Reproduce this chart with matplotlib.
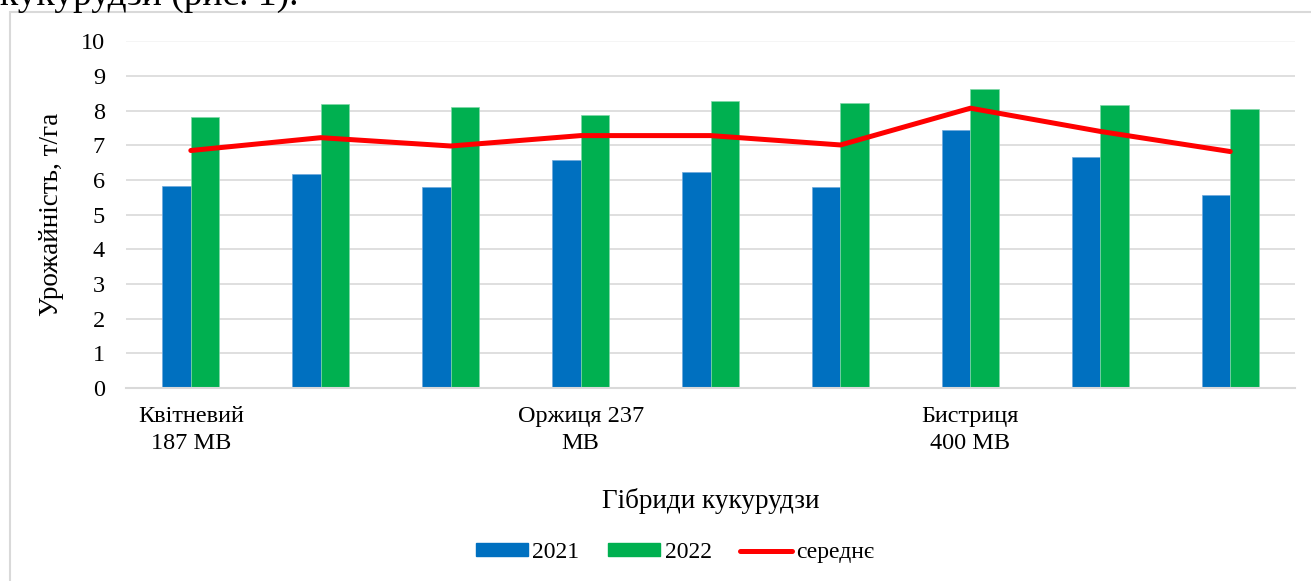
import matplotlib.pyplot as plt
import numpy as np
from matplotlib.patches import Rectangle
from matplotlib.lines import Line2D

plt.rcParams['font.family'] = ['Liberation Serif', 'DejaVu Serif']

# урожайність гібридів, т/га
y2021 = [5.84, 6.18, 5.81, 6.58, 6.22, 5.81, 7.44, 6.65, 5.58]
y2022 = [7.83, 8.19, 8.11, 7.88, 8.29, 8.21, 8.62, 8.17, 8.05]
avg = [6.85, 7.22, 6.98, 7.28, 7.28, 7.01, 8.07, 7.40, 6.82]
labels = ['Квітневий\n187 МВ', '', '', 'Оржиця 237\nМВ', '', '',
          'Бистриця\n400 МВ', '', '']

blue = '#0070c0'
green = '#00b050'
red = '#ff0000'
grid_c = '#d9d9d9'

fig = plt.figure(figsize=(13.11, 5.81), dpi=100)
ax = fig.add_axes([0.096, 0.332, 0.892, 0.597])

x = np.arange(len(y2021))
w = 0.22
ax.bar(x - w / 2, y2021, w, color=blue, edgecolor='#6fa8dc', linewidth=0.5, zorder=2)
ax.bar(x + w / 2, y2022, w, color=green, edgecolor='#7fd8a8', linewidth=0.5, zorder=2)
ax.plot(x, avg, color=red, lw=3.6, solid_capstyle='round', solid_joinstyle='round', zorder=3)

ax.set_xlim(-0.5, len(x) - 0.5)
ax.set_ylim(0, 10)
ax.set_yticks(range(0, 11))
ax.yaxis.grid(True, color=grid_c, lw=1.2, zorder=0)
ax.yaxis.get_gridlines()[-1].set_color('#f4f4f4')
ax.set_xticks(x)
ax.set_xticklabels(labels, fontsize=17.5, linespacing=1.38)
ax.tick_params(axis='both', length=0, labelsize=17.5)
ax.tick_params(axis='x', pad=13)
ax.tick_params(axis='y', pad=15)
for s in ['top', 'right', 'left']:
    ax.spines[s].set_visible(False)
ax.spines['bottom'].set_color(grid_c)
ax.spines['bottom'].set_linewidth(1.5)

ax.set_ylabel('Урожайність, т/га', fontsize=19.5, labelpad=12)
ax.set_xlabel('Гібриди кукурудзи', fontsize=19.5, labelpad=24)

handles = [Rectangle((0, 0), 1, 1, color=blue),
           Rectangle((0, 0), 1, 1, color=green),
           Line2D([], [], color=red, lw=3.6, solid_capstyle='round')]
fig.legend(handles, ['2021', '2022', 'середнє'], loc='center',
           bbox_to_anchor=(0.515, 0.049), ncol=3, frameon=False, fontsize=17,
           handlelength=2.2, handleheight=0.42, handletextpad=0.2, columnspacing=1.2)

# рамка діаграми та обрізаний рядок тексту зверху
fig.patches.append(Rectangle((10 / 1311, -0.05), 1.1, 1 - 12 / 581 + 0.05,
                             transform=fig.transFigure, fill=False,
                             edgecolor=grid_c, lw=1.5))
fig.text(0.0, 1 - 5 / 581, 'кукурудзи (рис. 1).', fontsize=27, va='baseline', ha='left')

fig.savefig('out.png', dpi=100)
